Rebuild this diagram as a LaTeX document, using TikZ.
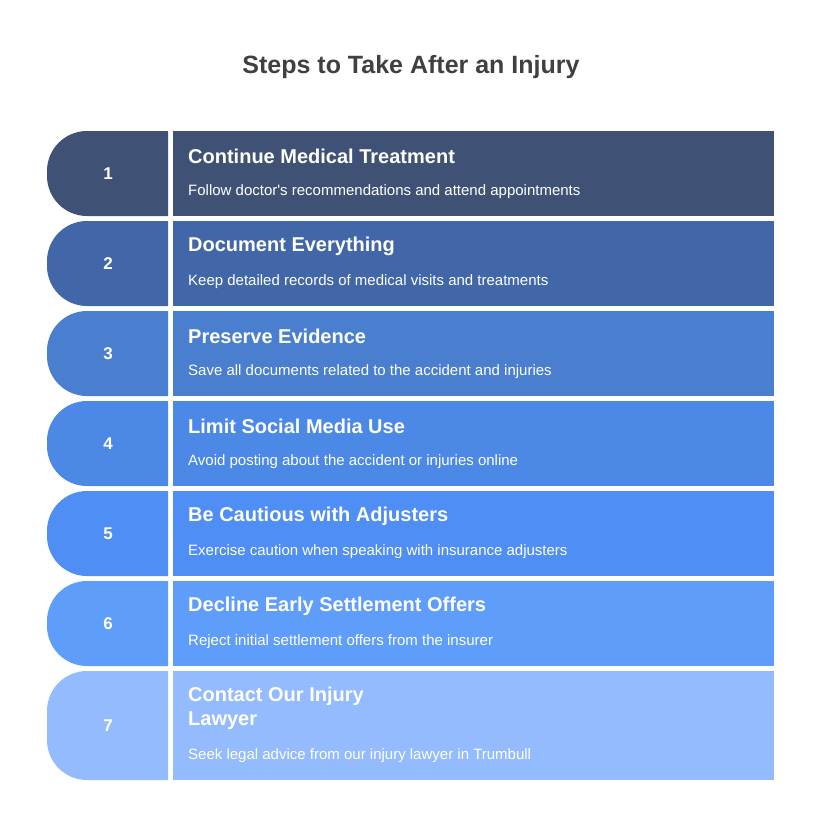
\documentclass[tikz,border=0pt]{standalone}
\usepackage{fontspec}
\setmainfont{Liberation Sans}
\usepackage{xcolor}
\definecolor{titlegray}{HTML}{404040}
\definecolor{rowa}{HTML}{3F5275}
\definecolor{rowb}{HTML}{4267A8}
\definecolor{rowc}{HTML}{4A7FD0}
\definecolor{rowd}{HTML}{4C88E6}
\definecolor{rowe}{HTML}{4F8EF5}
\definecolor{rowf}{HTML}{5F9DFA}
\definecolor{rowg}{HTML}{93BBFD}

\begin{document}
\begin{tikzpicture}[x=1pt,y=-1pt]
\tikzstyle{num}=[text=white,font=\fontsize{17}{20}\selectfont\bfseries]
\tikzstyle{head}=[text=white,anchor=west,align=left,inner sep=0pt,font=\fontsize{20}{24}\selectfont\bfseries]
\tikzstyle{desc}=[text=white,anchor=west,inner sep=0pt,font=\fontsize{15}{18}\selectfont]
  \useasboundingbox[fill=white](0,0)rectangle(822,816);
  \node(title)at(411,67)[text=titlegray,font=\fontsize{25}{30}\selectfont\bfseries]{Steps to Take After an Injury};
  \foreach \i/\top/\bot/\col/\hd/\ds in {
    1/131/216/rowa/{Continue Medical Treatment}/{Follow doctor\textquotesingle s recommendations and attend appointments},
    2/221/306/rowb/{Document Everything}/{Keep detailed records of medical visits and treatments},
    3/311/396/rowc/{Preserve Evidence}/{Save all documents related to the accident and injuries},
    4/401/486/rowd/{Limit Social Media Use}/{Avoid posting about the accident or injuries online},
    5/491/576/rowe/{Be Cautious with Adjusters}/{Exercise caution when speaking with insurance adjusters},
    6/581/666/rowf/{Decline Early Settlement Offers}/{Reject initial settlement offers from the insurer}}{
    \fill[\col](168,\top)[rounded corners=40]--(47,\top)--(47,\bot)[sharp corners]--(168,\bot)--cycle;
    \fill[\col](173,\top)rectangle(774,\bot);
    \node(num\i)at(108,{(\top+\bot)/2})[num]{\i};
    \node(head\i)at(188,\top+25)[head]{\hd};
    \node(desc\i)at(188,\top+61)[desc]{\ds};
  }
  % last step is taller
  \fill[rowg](168,671)[rounded corners=40]--(47,671)--(47,780)[sharp corners]--(168,780)--cycle;
  \fill[rowg](173,671)rectangle(774,780);
  \node(num7)at(108,726)[num]{7};
  \node(head7)at(188,708)[head]{Contact Our Injury\\Lawyer};
  \node(desc7)at(188,756)[desc]{Seek legal advice from our injury lawyer in Trumbull};
\end{tikzpicture}
\end{document}
